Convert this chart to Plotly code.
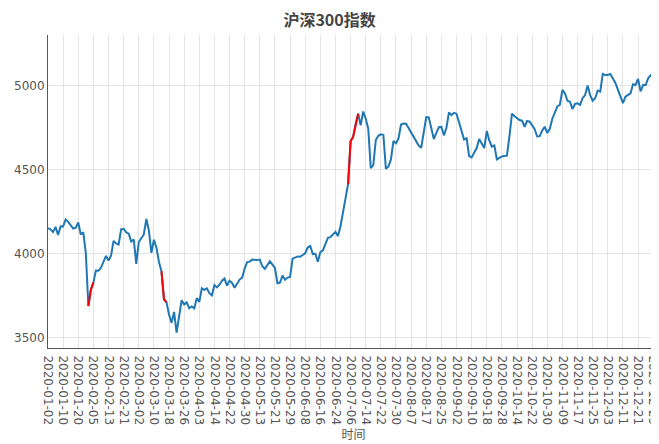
import plotly.graph_objects as go

dates = [
    "2020-01-02","2020-01-03","2020-01-06","2020-01-07","2020-01-08","2020-01-09","2020-01-10","2020-01-13","2020-01-14","2020-01-15",
    "2020-01-16","2020-01-17","2020-01-20","2020-01-21","2020-01-22","2020-01-23",
    "2020-02-03","2020-02-04","2020-02-05","2020-02-06","2020-02-07","2020-02-10","2020-02-11","2020-02-12","2020-02-13","2020-02-14",
    "2020-02-17","2020-02-18","2020-02-19","2020-02-20","2020-02-21","2020-02-24","2020-02-25","2020-02-26","2020-02-27","2020-02-28",
    "2020-03-02","2020-03-03","2020-03-04","2020-03-05","2020-03-06","2020-03-09","2020-03-10","2020-03-11","2020-03-12","2020-03-13",
    "2020-03-16","2020-03-17","2020-03-18","2020-03-19","2020-03-20","2020-03-23","2020-03-24","2020-03-25","2020-03-26","2020-03-27",
    "2020-03-30","2020-03-31",
    "2020-04-01","2020-04-02","2020-04-03","2020-04-07","2020-04-08","2020-04-09","2020-04-10","2020-04-13","2020-04-14","2020-04-15",
    "2020-04-16","2020-04-17","2020-04-20","2020-04-21","2020-04-22","2020-04-23","2020-04-24","2020-04-27","2020-04-28","2020-04-29",
    "2020-04-30",
    "2020-05-06","2020-05-07","2020-05-08","2020-05-11","2020-05-12","2020-05-13","2020-05-14","2020-05-15","2020-05-18","2020-05-19",
    "2020-05-20","2020-05-21","2020-05-22","2020-05-25","2020-05-26","2020-05-27","2020-05-28","2020-05-29",
    "2020-06-01","2020-06-02","2020-06-03","2020-06-04","2020-06-05","2020-06-08","2020-06-09","2020-06-10","2020-06-11","2020-06-12",
    "2020-06-15","2020-06-16","2020-06-17","2020-06-18","2020-06-19","2020-06-22","2020-06-23","2020-06-24","2020-06-29","2020-06-30",
    "2020-07-01","2020-07-02","2020-07-03","2020-07-06","2020-07-07","2020-07-08","2020-07-09","2020-07-10","2020-07-13","2020-07-14",
    "2020-07-15","2020-07-16","2020-07-17","2020-07-20","2020-07-21","2020-07-22","2020-07-23","2020-07-24","2020-07-27","2020-07-28",
    "2020-07-29","2020-07-30","2020-07-31",
    "2020-08-03","2020-08-04","2020-08-05","2020-08-06","2020-08-07","2020-08-10","2020-08-11","2020-08-12","2020-08-13","2020-08-14",
    "2020-08-17","2020-08-18","2020-08-19","2020-08-20","2020-08-21","2020-08-24","2020-08-25","2020-08-26","2020-08-27","2020-08-28",
    "2020-08-31",
    "2020-09-01","2020-09-02","2020-09-03","2020-09-04","2020-09-07","2020-09-08","2020-09-09","2020-09-10","2020-09-11","2020-09-14",
    "2020-09-15","2020-09-16","2020-09-17","2020-09-18","2020-09-21","2020-09-22","2020-09-23","2020-09-24","2020-09-25","2020-09-28",
    "2020-09-29","2020-09-30",
    "2020-10-09","2020-10-12","2020-10-13","2020-10-14","2020-10-15","2020-10-16","2020-10-19","2020-10-20","2020-10-21","2020-10-22",
    "2020-10-23","2020-10-26","2020-10-27","2020-10-28","2020-10-29","2020-10-30",
    "2020-11-02","2020-11-03","2020-11-04","2020-11-05","2020-11-06","2020-11-09","2020-11-10","2020-11-11","2020-11-12","2020-11-13",
    "2020-11-16","2020-11-17","2020-11-18","2020-11-19","2020-11-20","2020-11-23","2020-11-24","2020-11-25","2020-11-26","2020-11-27",
    "2020-11-30",
    "2020-12-01","2020-12-02","2020-12-03","2020-12-04","2020-12-07","2020-12-08","2020-12-09","2020-12-10","2020-12-11","2020-12-14",
    "2020-12-15","2020-12-16","2020-12-17","2020-12-18","2020-12-21","2020-12-22","2020-12-23","2020-12-24","2020-12-25","2020-12-28",
    "2020-12-29","2020-12-30","2020-12-31",
]

close = [
    4152, 4145, 4129, 4160, 4112, 4164, 4163, 4204, 4190, 4172,
    4150, 4155, 4186, 4114, 4128, 4004,
    3688, 3785, 3828, 3900, 3899, 3916, 3952, 3987, 3960, 3988,
    4077, 4061, 4055, 4146, 4149, 4128, 4120, 4073, 4085, 3940,
    4070, 4091, 4115, 4207, 4139, 4005, 4083, 4036, 3951, 3895,
    3728, 3710, 3636, 3589, 3653, 3530, 3625, 3723, 3698, 3710,
    3675, 3686,
    3675, 3735, 3713, 3794, 3785, 3794, 3765, 3752, 3813, 3799,
    3815, 3839, 3852, 3810, 3839, 3826, 3797, 3823, 3846, 3858,
    3913,
    3950, 3953, 3965, 3962, 3962, 3965, 3925, 3910, 3935, 3955,
    3935, 3915, 3824, 3828, 3870, 3845, 3858, 3862,
    3971, 3980, 3984, 3982, 3995, 4003, 4037, 4046, 3998, 4000,
    3952, 4010, 4020, 4060, 4095, 4099, 4118, 4130, 4105, 4164,
    4248, 4338, 4415, 4670, 4696, 4774, 4835, 4765, 4848, 4805,
    4745, 4510, 4528, 4678, 4703, 4712, 4708, 4506, 4520, 4562,
    4673, 4658, 4688,
    4770, 4776, 4775, 4748, 4725, 4700, 4671, 4645, 4632, 4718,
    4815, 4813, 4757, 4684, 4720, 4754, 4756, 4706, 4751, 4842,
    4826,
    4840, 4835, 4788, 4736, 4681, 4688, 4582, 4574, 4605, 4630,
    4684, 4656, 4630, 4731, 4675, 4639, 4646, 4562, 4572, 4580,
    4582, 4585,
    4703, 4835, 4820, 4807, 4797, 4793, 4757, 4791, 4787, 4765,
    4742, 4699, 4701, 4735, 4757, 4720,
    4745, 4805, 4838, 4878, 4888, 4977, 4956, 4912, 4906, 4862,
    4893, 4897, 4887, 4927, 4946, 5003, 4946, 4912, 4927, 4972,
    4966,
    5072, 5066, 5066, 5072, 5044, 5018, 4978, 4938, 4898, 4936,
    4948, 4956, 5010, 5006, 5042, 4968, 5006, 5006, 5046, 5064,
    5050, 5114, 5211,
]

red_periods = [
    ("2020-02-03", "2020-02-05"),
    ("2020-03-13", "2020-03-17"),
    ("2020-07-03", "2020-07-09"),
]

tick_dates = dates[::6]
y_ticks = [3500, 4000, 4500, 5000]


def in_red(d):
    return any(a <= d <= b for a, b in red_periods)


red_vals = [v if in_red(d) else None for d, v in zip(dates, close)]

fig = go.Figure()
fig.add_trace(go.Scatter(
    x=dates, y=close, mode="lines",
    line=dict(color="#1f77b4", width=2),
    showlegend=False, hoverinfo="x+y",
))
fig.add_trace(go.Scatter(
    x=dates, y=red_vals, mode="lines",
    line=dict(color="#ff0000", width=2),
    connectgaps=False, showlegend=False, hoverinfo="x+y",
))

fig.update_layout(
    width=659, height=444,
    paper_bgcolor="white", plot_bgcolor="white",
    margin=dict(l=40, r=8, t=27, b=104),
    font=dict(family="DejaVu Sans, Noto Sans CJK SC", size=12, color="#555555"),
    title=dict(
        text="<b>沪深300指数</b>", x=0.488, xanchor="center", y=0.972, yanchor="middle",
        font=dict(family="Noto Sans CJK SC", size=16, color="#444444"),
    ),
)
fig.update_xaxes(
    type="category",
    categoryorder="array", categoryarray=dates,
    range=[0, 242.3],
    tickmode="array", tickvals=tick_dates, ticktext=tick_dates,
    tickangle=90,
    showgrid=True, gridcolor="#e4e4e4", gridwidth=1,
    showline=True, linecolor="#555555", linewidth=1,
    ticks="outside", ticklen=4, tickcolor="rgba(0,0,0,0)",
    zeroline=False, automargin=False,
    tickfont=dict(size=12),
    title=dict(text="时间", standoff=2, font=dict(family="Noto Sans CJK SC", size=12, color="#555555")),
)
fig.update_yaxes(
    range=[3438, 5304],
    tickmode="array", tickvals=y_ticks,
    showgrid=True, gridcolor="#e4e4e4", gridwidth=1,
    showline=True, linecolor="#555555", linewidth=1,
    ticks="", zeroline=False, automargin=False,
    tickfont=dict(size=12),
)

fig.write_html("out.html")
